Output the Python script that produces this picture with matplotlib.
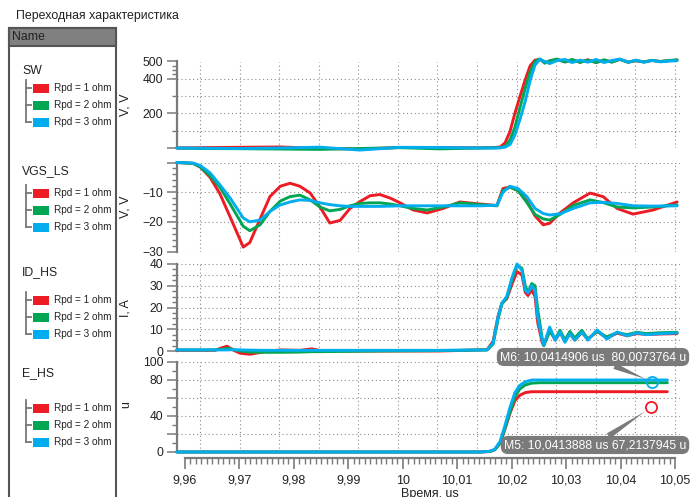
import matplotlib.pyplot as plt
import numpy as np
from matplotlib.patches import Rectangle
from matplotlib.ticker import FixedLocator, FixedFormatter

plt.rcParams['font.family'] = ['Liberation Sans', 'DejaVu Sans']

RED, GREEN, BLUE = '#ED1C24', '#00A651', '#00AEEF'
COLORS = [RED, GREEN, BLUE]
TXT = '#222222'
SPINE = '#7a7a7a'
GRID = '#8c8c8c'

title = 'Переходная характеристика'
groups = ['SW', 'VGS_LS', 'ID_HS', 'E_HS']
series_names = ['Rpd = 1 ohm', 'Rpd = 2 ohm', 'Rpd = 3 ohm']

# time axis, us
x_ticks = [9.96, 9.97, 9.98, 9.99, 10.0, 10.01, 10.02, 10.03, 10.04, 10.05]
x_labels = ['9,96', '9,97', '9,98', '9,99', '10', '10,01', '10,02', '10,03', '10,04', '10,05']

# SW, V
sw_t = [9.9585, 9.9628, 9.9701, 9.9775, 9.9848, 9.9921, 9.9995, 10.0068, 10.0142,
        10.0169, 10.0179, 10.0188, 10.0197, 10.0206, 10.0215, 10.0225, 10.0234, 10.0243,
        10.0252, 10.0261, 10.0270, 10.0283, 10.0298, 10.0311, 10.0326, 10.0340, 10.0355,
        10.0370, 10.0384, 10.0399, 10.0414, 10.0428, 10.0443, 10.0458, 10.0473, 10.0487,
        10.0504]
sw_1 = [0, 2, 4, 6, -2, -6, 3, 2, 1, 3, 6, 30, 95, 200, 295, 395, 475, 508, 512,
        495, 500, 512, 498, 508, 496, 510, 495, 505, 498, 512, 497, 504, 498, 506, 500, 504, 508]
sw_2 = [0, -3, -4, -6, -8, -3, 2, -5, 0, 1, 2, 10, 46, 120, 230, 345, 440, 500, 515,
        490, 505, 514, 497, 512, 495, 508, 494, 510, 496, 513, 495, 506, 497, 507, 500, 505, 510]
sw_3 = [0, -1, -3, 0, 5, -12, 4, 3, 0, 0, 1, 5, 20, 75, 162, 270, 390, 480, 512,
        500, 488, 505, 512, 494, 508, 496, 512, 494, 506, 514, 496, 508, 496, 506, 498, 502, 505]

# VGS_LS, V
vgs_t = [9.9585, 9.9615, 9.9628, 9.9646, 9.9664, 9.9683, 9.9707, 9.9719, 9.9738, 9.9756,
         9.9775, 9.9793, 9.9811, 9.9830, 9.9848, 9.9866, 9.9885, 9.9903, 9.9921, 9.9940,
         9.9958, 9.9977, 9.9995, 10.0019, 10.0045, 10.0074, 10.0105, 10.0142, 10.0173,
         10.0184, 10.0197, 10.0212, 10.0228, 10.0243, 10.0258, 10.0270, 10.0289, 10.0313,
         10.0344, 10.0368, 10.0394, 10.0423, 10.0460, 10.0504]
vgs_1 = [0, -0.3, -1.5, -5, -10.5, -18.4, -28.5, -27, -19, -11.5, -8, -7, -8, -10.3, -15,
         -20.4, -19.5, -15.5, -13.2, -11.2, -10.8, -12, -13.6, -16, -17, -15.5, -13.3, -14,
         -14.5, -8.8, -8.2, -9.5, -13, -18, -21, -20.5, -17, -13.6, -10.3, -11.5, -15.5,
         -17.4, -16, -13.3]
vgs_2 = [0, -0.3, -1.5, -4.5, -8.3, -14, -21.5, -23, -21, -16.5, -13, -11.5, -11, -12.6,
         -15, -16.3, -15.8, -14.6, -13.8, -13.6, -13.6, -14, -14.6, -15.5, -16, -15, -13.6,
         -14.2, -14.6, -9.5, -8.3, -9.5, -13.5, -17.5, -19, -19.4, -17.5, -14.5, -12.6,
         -13.5, -15, -15.3, -15, -14.3]
vgs_3 = [0, -0.2, -1, -3.5, -7.5, -12, -18.7, -20, -19.4, -16.5, -14.3, -13.3, -12.6,
         -12.8, -13.6, -14.2, -14.6, -14.8, -14.8, -14.8, -14.8, -14.7, -14.6, -14.6, -14.6,
         -14.6, -14.6, -14.6, -14.4, -10, -8, -8.8, -11.5, -15.5, -17.2, -17.7, -17.3,
         -15.5, -13.6, -13.4, -13.8, -14.6, -14.7, -14.6]

# ID_HS, A
id_t = [9.9585, 9.9655, 9.9668, 9.9677, 9.9688, 9.9701, 9.9719, 9.9747, 9.9775, 9.9811,
        9.9833, 9.9848, 9.9885, 9.9958, 10.0068, 10.0155, 10.0166, 10.0175, 10.0182,
        10.0191, 10.0201, 10.0210, 10.0219, 10.0225, 10.0230, 10.0237, 10.0243, 10.0248,
        10.0256, 10.0259, 10.0270, 10.0280, 10.0289, 10.0298, 10.0307, 10.0316, 10.0329,
        10.0340, 10.0357, 10.0375, 10.0394, 10.0412, 10.0430, 10.0448, 10.0473, 10.0504]
id_1 = [0.3, 0.3, 1.5, 2.2, 0.5, -1, -1.5, -0.3, 0.5, 0.3, 1, 0.2, 0, 0, 0,
        0.6, 4.5, 16, 22, 24, 31, 36.5, 35, 27, 25.5, 28, 25, 13, 4, 2.5,
        10, 5, 8.5, 4.5, 8, 5, 8.5, 5.5, 9, 6, 8.2, 7, 8, 7.6, 7.8, 8]
id_2 = [0.5, 0.5, 0.8, 1.2, 0.8, 0, -0.5, -0.6, -0.6, -0.5, -0.3, -0.3, -0.2, 0, 0.2,
        0.5, 3.2, 14.5, 21.5, 24.5, 33, 39.5, 38, 30, 27, 31, 30, 19, 6, 2.5,
        9, 5.5, 9.5, 5, 9, 6, 9.5, 5.5, 9, 6.5, 8.5, 7.5, 8.6, 8, 8.4, 8.6]
id_3 = [0.5, 0.5, 0.5, 0.5, 0.6, 0.5, 0.4, 0.3, 0.3, 0.3, 0.3, 0.3, 0.3, 0.3, 0.3,
        0.5, 3.7, 15.6, 22, 25, 34, 40, 37, 28, 26.7, 30, 28, 15.6, 5, 2.7,
        11, 5, 8.7, 4, 8, 5, 8.7, 5, 9.7, 5.5, 8.7, 7, 8.3, 7.5, 8, 8.3]

# E_HS, u
e_t = [9.9585, 10.0142, 10.0160, 10.0169, 10.0179, 10.0188, 10.0197, 10.0206, 10.0215,
       10.0225, 10.0237, 10.0252, 10.0486]
e_1 = [0, 0, 0.5, 2.5, 10, 26, 43, 57, 63, 66, 67, 67, 67]
e_2 = [0, 0, 0.7, 2.5, 10, 27, 45, 61, 70, 74.5, 76.5, 77, 77]
e_3 = [0, 0, 0.8, 3, 12, 30, 49.5, 66, 74, 78, 80, 80, 80]

# markers
m6_t, m6_v = 10.0458, 78
m5_t, m5_v = 10.0456, 49.5
m6_text = 'M6: 10,0414906 us  80,0073764 u'
m5_text = 'M5: 10,0413888 us 67,2137945 u'

W, H = 690, 497
fig = plt.figure(figsize=(W / 100, H / 100), dpi=100)

# background layer in pixel coords for the name panel and labels
bg = fig.add_axes([0, 0, 1, 1])
bg.set_xlim(0, W)
bg.set_ylim(H, 0)
bg.axis('off')

bg.text(16, 16, title, fontsize=8.9, color=TXT, ha='left', va='center')
bg.add_patch(Rectangle((9, 28), 107, 480, fc='white', ec='#555555', lw=1.5))
bg.add_patch(Rectangle((9, 28), 107, 18, fc='#808080', ec='#555555', lw=1.5))
bg.text(12, 37.5, 'Name', fontsize=8.8, color=TXT, ha='left', va='center')

group_y = [71, 171, 272, 373]
item_y = [88, 193, 300, 408]
for name, gy, iy in zip(groups, group_y, item_y):
    bg.text(22, gy, name, fontsize=8.8, color=TXT, ha='left', va='center')
    ys = [iy + 17 * k for k in range(3)]
    bg.plot([26, 26], [ys[0] - 8, ys[-1]], color='#777777', lw=1.3)
    for y, lab, c in zip(ys, series_names, COLORS):
        bg.plot([26, 31], [y, y], color='#777777', lw=1.3)
        bg.add_patch(Rectangle((33, y - 4.5), 16, 9, fc=c, ec='none'))
        bg.text(54, y, lab, fontsize=7.2, color=TXT, ha='left', va='center')

# data panels
t_left, t_right = 9.95853, 10.05093
vgrid = np.linspace(9.96276, 10.05, 13)

panels = [
    dict(y_top=61.5, y_bot=148, ylim=(0, 500), t=sw_t, data=[sw_1, sw_2, sw_3],
         major=[0, 200, 400, 500], labels=['', '200', '400', '500'],
         minor=[100, 300, 425, 450, 475], hgrid=[100, 200, 300, 400],
         ylabel='V, V', ly=105),
    dict(y_top=162.5, y_bot=251.5, ylim=(-30, 0), t=vgs_t, data=[vgs_1, vgs_2, vgs_3],
         major=[-30, -20, -10, 0], labels=['\u221230', '\u221220', '\u221210', ''],
         minor=list(range(-30, 1, 2)), hgrid=[-30, -20, -10, 0],
         ylabel='V, V', ly=207),
    dict(y_top=264, y_bot=351, ylim=(0, 40), t=id_t, data=[id_1, id_2, id_3],
         major=[0, 10, 20, 30, 40], labels=['0', '10', '20', '30', '40'],
         minor=list(np.arange(0, 40.1, 2.5)), hgrid=list(range(5, 41, 5)),
         ylabel='I, A', ly=308),
    dict(y_top=362, y_bot=452, ylim=(0, 100), t=e_t, data=[e_1, e_2, e_3],
         major=[0, 20, 40, 60, 80, 100], labels=['0', '', '40', '', '80', '100'],
         minor=[10, 30, 50, 70, 90], hgrid=[20, 40, 60, 80, 100],
         ylabel='u', ly=405),
]

axes = []
for p in panels:
    ax = fig.add_axes([177 / W, 1 - p['y_bot'] / H, 503 / W, (p['y_bot'] - p['y_top']) / H])
    ax.set_xlim(t_left, t_right)
    ax.set_ylim(*p['ylim'])
    ax.patch.set_alpha(0)
    for s in ['top', 'right', 'bottom']:
        ax.spines[s].set_visible(False)
    ax.spines['left'].set_color(SPINE)
    ax.spines['left'].set_linewidth(1.6)
    ax.set_xticks([])
    ax.yaxis.set_major_locator(FixedLocator(p['major']))
    ax.yaxis.set_major_formatter(FixedFormatter(p['labels']))
    ax.yaxis.set_minor_locator(FixedLocator(p['minor']))
    ax.tick_params(axis='y', which='major', length=7, width=1.1, color=SPINE,
                   labelsize=8.7, labelcolor=TXT, pad=3)
    ax.tick_params(axis='y', which='minor', length=3.5, width=1.0, color=SPINE)
    for g in p['hgrid']:
        ax.axhline(g, color=GRID, lw=0.8, ls=(0, (1, 2.5)), zorder=0)
    for g in vgrid:
        ax.axvline(g, color=GRID, lw=0.8, ls=(0, (1, 2.5)), zorder=0)
    for vals, c in zip(p['data'], COLORS):
        ax.plot(p['t'], vals, color=c, lw=2.1, clip_on=False,
                solid_joinstyle='round', solid_capstyle='round', zorder=3)
    bg.text(126, p['ly'], p['ylabel'], rotation=90, fontsize=9, color=TXT,
            ha='center', va='center')
    axes.append(ax)

ax_e = axes[3]
box_c = '#7a7a7a'
for mt, mv, c, txt, pos in [(m6_t, m6_v, BLUE, m6_text, (593, 140)),
                            (m5_t, m5_v, RED, m5_text, (595, 52))]:
    ax_e.annotate(txt, xy=(mt, mv), xytext=pos, textcoords='figure pixels',
                  fontsize=8.8, color='white', ha='center', va='center', zorder=6,
                  bbox=dict(boxstyle='round,pad=0.25,rounding_size=0.6', fc=box_c, ec='none'),
                  arrowprops=dict(arrowstyle='wedge,tail_width=0.5', fc=box_c, ec='none',
                                  shrinkA=0, shrinkB=5))
    ax_e.plot(mt, mv, 'o', ms=8, mfc='none', mec=c, mew=1.3, clip_on=False, zorder=7)

# time axis
axt = fig.add_axes([185 / W, 1 - 458 / H, 490 / W, 0.0002])
axt.set_xlim(9.96, 10.05)
axt.patch.set_alpha(0)
for s in ['top', 'left', 'right']:
    axt.spines[s].set_visible(False)
axt.spines['bottom'].set_color(SPINE)
axt.spines['bottom'].set_linewidth(1.6)
axt.set_yticks([])
axt.xaxis.set_major_locator(FixedLocator(x_ticks))
axt.xaxis.set_major_formatter(FixedFormatter(x_labels))
axt.xaxis.set_minor_locator(FixedLocator(np.linspace(9.96, 10.05, 91)))
axt.tick_params(axis='x', which='major', length=8, width=1.2, color=SPINE,
                labelsize=9, labelcolor=TXT, pad=4)
axt.tick_params(axis='x', which='minor', length=4.5, width=1.0, color=SPINE)

# axis title sits at the very bottom edge, partly cut off as in the original
bg.text(430, 488, 'Время, us', fontsize=9, color=TXT, ha='center', va='top')

fig.savefig('out.png', dpi=100)
